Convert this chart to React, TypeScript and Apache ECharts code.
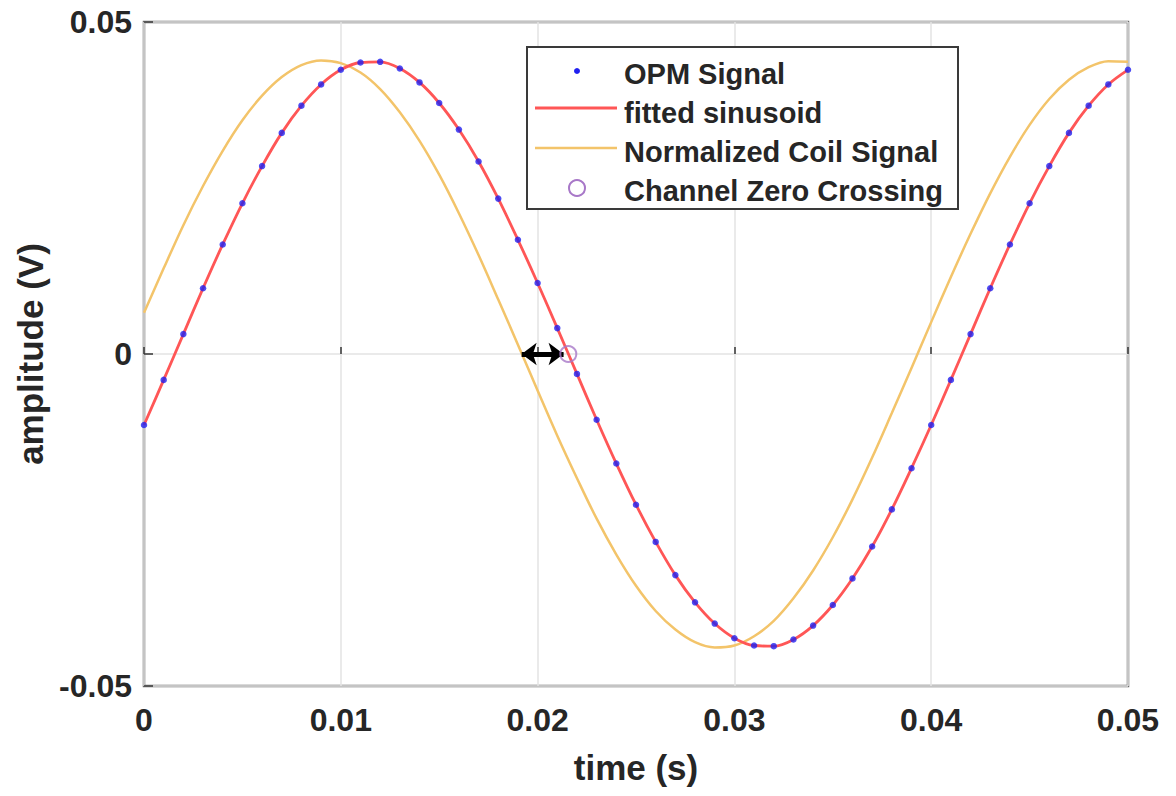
import React, { useEffect, useRef } from "react";
import * as echarts from "echarts";

// sample times (s)
const sampleTimes = [
  0, 0.001, 0.002, 0.003, 0.004, 0.005, 0.006, 0.007, 0.008, 0.009,
  0.01, 0.011, 0.012, 0.013, 0.014, 0.015, 0.016, 0.017, 0.018, 0.019,
  0.02, 0.021, 0.022, 0.023, 0.024, 0.025, 0.026, 0.027, 0.028, 0.029,
  0.03, 0.031, 0.032, 0.033, 0.034, 0.035, 0.036, 0.037, 0.038, 0.039,
  0.04, 0.041, 0.042, 0.043, 0.044, 0.045, 0.046, 0.047, 0.048, 0.049, 0.05,
];

// OPM signal samples (V)
const opmSignal = [
  -0.0107, -0.0039, 0.003, 0.0099, 0.0165, 0.0227, 0.0283, 0.0333, 0.0374, 0.0406,
  0.0428, 0.0439, 0.044, 0.043, 0.0409, 0.0378, 0.0338, 0.029, 0.0234, 0.0172,
  0.0107, 0.0039, -0.003, -0.0099, -0.0165, -0.0227, -0.0283, -0.0333, -0.0374, -0.0406,
  -0.0428, -0.0439, -0.044, -0.043, -0.0409, -0.0378, -0.0338, -0.029, -0.0234, -0.0172,
  -0.0107, -0.0039, 0.003, 0.0099, 0.0165, 0.0227, 0.0283, 0.0333, 0.0374, 0.0406, 0.0428,
];

// fitted sinusoid (V)
const fittedSinusoid = [
  -0.0107, -0.0039, 0.003, 0.0099, 0.0165, 0.0227, 0.0283, 0.0333, 0.0374, 0.0406,
  0.0428, 0.0439, 0.044, 0.043, 0.0409, 0.0378, 0.0338, 0.029, 0.0234, 0.0172,
  0.0107, 0.0039, -0.003, -0.0099, -0.0165, -0.0227, -0.0283, -0.0333, -0.0374, -0.0406,
  -0.0428, -0.0439, -0.044, -0.043, -0.0409, -0.0378, -0.0338, -0.029, -0.0234, -0.0172,
  -0.0107, -0.0039, 0.003, 0.0099, 0.0165, 0.0227, 0.0283, 0.0333, 0.0374, 0.0406, 0.0428,
];

// normalized coil signal (V)
const coilSignal = [
  0.0062, 0.0129, 0.0194, 0.0253, 0.0306, 0.0352, 0.0389, 0.0417, 0.0435, 0.0442,
  0.0438, 0.0424, 0.0399, 0.0364, 0.0321, 0.027, 0.0212, 0.0149, 0.0082, 0.0014,
  -0.0055, -0.0123, -0.0187, -0.0248, -0.0302, -0.0349, -0.0387, -0.0415, -0.0434, -0.0442,
  -0.0439, -0.0425, -0.0402, -0.0368, -0.0326, -0.0276, -0.0219, -0.0156, -0.0089, -0.0021,
  0.0048, 0.0116, 0.0181, 0.0242, 0.0297, 0.0345, 0.0384, 0.0413, 0.0432, 0.0441, 0.044,
];

// channel zero crossing point and coil zero crossing
const zeroCrossing = [0.02156, 0];
const coilZeroCrossing = [0.01919, 0];
const arrowEnd = [0.02132, 0];

const legendNames = ["OPM Signal", "fitted sinusoid", "Normalized Coil Signal", "Channel Zero Crossing"];

const xTicks = { min: 0, max: 0.05, interval: 0.01 };
const yTicks = { min: -0.05, max: 0.05, interval: 0.05 };

const FONT = "'Liberation Sans', Arial, Helvetica, sans-serif";
const TEXT = "#262626";
const BLUE = "#2020f0";
const RED = "#ff5656";
const YELLOW = "#f3c46a";
const PURPLE = "#a878c8";

export default function App() {
  const ref = useRef<HTMLDivElement>(null);

  useEffect(() => {
    if (!ref.current) return;
    const chart = echarts.init(ref.current, null, { renderer: "svg" });
    const pairs = (vals: number[]) => sampleTimes.map((t, i) => [t, vals[i]]);
    const fmt = (v: number) => (v === 0 ? "0" : v.toFixed(2));

    const legendLeft = 527;
    const legendTop = 47;
    const rowY = [74, 113, 152, 191];
    const textX = 624;
    const iconX0 = 535;
    const iconX1 = 617;
    const iconCx = 577;

    chart.setOption({
      animation: false,
      backgroundColor: "#ffffff",
      grid: {
        left: 144,
        right: 48,
        top: 22,
        bottom: 110,
        show: true,
        borderColor: "#6a6a6a",
        borderWidth: 2.5,
        backgroundColor: "transparent",
        containLabel: false,
      },
      xAxis: {
        type: "value",
        min: xTicks.min,
        max: xTicks.max,
        interval: xTicks.interval,
        name: "time (s)",
        nameLocation: "middle",
        nameGap: 64,
        nameTextStyle: { fontFamily: FONT, fontWeight: "bold", fontSize: 35, color: TEXT },
        axisLine: { show: false },
        axisTick: { show: true, inside: true, length: 7, lineStyle: { color: "#333", width: 1.5 } },
        axisLabel: {
          margin: 18,
          fontFamily: FONT,
          fontWeight: "bold",
          fontSize: 32,
          color: TEXT,
          formatter: fmt,
        },
        splitLine: { show: true, lineStyle: { color: "#e3e3e3", width: 1.5 } },
      },
      yAxis: {
        type: "value",
        min: yTicks.min,
        max: yTicks.max,
        interval: yTicks.interval,
        name: "amplitude (V)",
        nameLocation: "middle",
        nameGap: 94,
        nameTextStyle: { fontFamily: FONT, fontWeight: "bold", fontSize: 35, color: TEXT },
        axisLine: { show: false },
        axisTick: { show: true, inside: true, length: 9, lineStyle: { color: "#333", width: 1.5 } },
        axisLabel: {
          margin: 12,
          fontFamily: FONT,
          fontWeight: "bold",
          fontSize: 32,
          color: TEXT,
          formatter: fmt,
        },
        splitLine: { show: true, lineStyle: { color: "#e3e3e3", width: 1.5 } },
      },
      series: [
        {
          name: legendNames[2],
          type: "line",
          data: pairs(coilSignal),
          smooth: 0.35,
          showSymbol: false,
          lineStyle: { color: YELLOW, width: 2.5 },
          z: 2,
        },
        {
          name: legendNames[1],
          type: "line",
          data: pairs(fittedSinusoid),
          smooth: 0.35,
          showSymbol: false,
          lineStyle: { color: RED, width: 2.8 },
          z: 3,
          markLine: {
            silent: true,
            symbol: ["arrow", "arrow"],
            symbolSize: [17, 15],
            label: { show: false },
            lineStyle: { color: "#000", width: 5, type: "solid" },
            data: [[{ coord: coilZeroCrossing }, { coord: arrowEnd }]],
          },
        },
        {
          name: legendNames[0],
          type: "scatter",
          data: pairs(opmSignal),
          symbol: "circle",
          symbolSize: 6.5,
          itemStyle: { color: BLUE },
          z: 4,
        },
        {
          name: legendNames[3],
          type: "scatter",
          data: [zeroCrossing],
          symbol: "circle",
          symbolSize: 16,
          itemStyle: { color: "rgba(0,0,0,0)", borderColor: PURPLE, borderWidth: 2 },
          z: 5,
        },
      ],
      graphic: [
        {
          type: "rect",
          shape: { x: legendLeft, y: legendTop, width: 958 - legendLeft, height: 209 - legendTop },
          style: { fill: "#ffffff", stroke: "#3a3a3a", lineWidth: 2 },
          z: 100,
        },
        {
          type: "circle",
          shape: { cx: iconCx, cy: rowY[0] - 3, r: 3 },
          style: { fill: BLUE },
          z: 101,
        },
        {
          type: "line",
          shape: { x1: iconX0, y1: rowY[1] - 5, x2: iconX1, y2: rowY[1] - 5 },
          style: { stroke: RED, lineWidth: 2.8 },
          z: 101,
        },
        {
          type: "line",
          shape: { x1: iconX0, y1: rowY[2] - 4, x2: iconX1, y2: rowY[2] - 4 },
          style: { stroke: YELLOW, lineWidth: 2.5 },
          z: 101,
        },
        {
          type: "circle",
          shape: { cx: iconCx, cy: rowY[3] - 3, r: 8 },
          style: { fill: "none", stroke: PURPLE, lineWidth: 2 },
          z: 101,
        },
        ...legendNames.map((name, i) => ({
          type: "text",
          x: textX,
          y: rowY[i],
          style: {
            text: name,
            fontFamily: FONT,
            fontWeight: "bold",
            fontSize: 29,
            fill: TEXT,
            textVerticalAlign: "middle",
            verticalAlign: "middle",
          },
          z: 101,
        })),
      ],
    });

    return () => chart.dispose();
  }, []);

  return (
    <div
      ref={ref}
      style={{ position: "absolute", left: 0, top: 0, width: 1176, height: 796, background: "#fff" }}
    />
  );
}
